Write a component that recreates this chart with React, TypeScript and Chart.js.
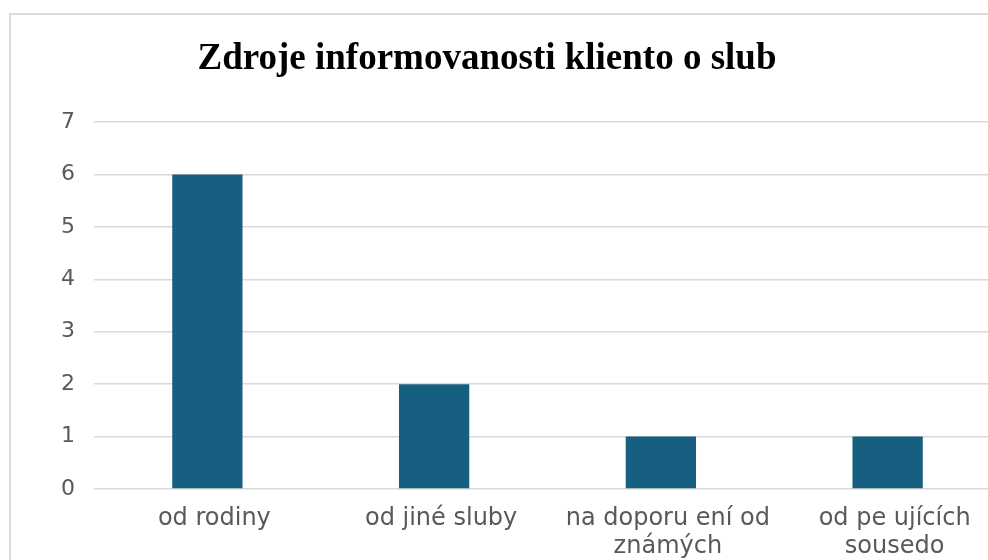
import React, { useEffect, useRef } from "react";
import { Chart, registerables } from "chart.js";

Chart.register(...registerables);

const titleText = "Zdroje informovanosti kliento o slub";
const categories: (string | string[])[] = [
  "od rodiny",
  "od jiné sluby",
  ["na doporu ení od", "známých"],
  ["od pe ujících", "sousedo"],
];
const values = [6, 2, 1, 1];
const yMin = 0;
const yMax = 7;
const yStep = 1;

const titlePlugin = {
  id: "customTitle",
  afterDraw(chart: any) {
    const ctx = chart.ctx;
    ctx.save();
    ctx.font = "bold 37px 'Liberation Serif', 'Times New Roman', serif";
    ctx.fillStyle = "#000000";
    ctx.textAlign = "center";
    ctx.textBaseline = "alphabetic";
    ctx.fillText(titleText, 477, 55);
    ctx.restore();
  },
};

export default function App() {
  const ref = useRef<HTMLCanvasElement>(null);
  useEffect(() => {
    document.body.style.overflow = "hidden";
    document.documentElement.style.overflow = "hidden";
    if (!ref.current) return;
    const chart = new Chart(ref.current, {
      type: "bar",
      data: {
        labels: categories,
        datasets: [
          {
            data: values,
            backgroundColor: "#175f80",
            borderWidth: 0,
            barPercentage: 0.31,
            categoryPercentage: 1,
          },
        ],
      },
      options: {
        animation: false,
        responsive: false,
        devicePixelRatio: 1,
        layout: { padding: { top: 108, left: 0, right: 0, bottom: 0 } },
        plugins: {
          legend: { display: false },
          title: { display: false },
          tooltip: { enabled: false },
        },
        scales: {
          x: {
            grid: { display: false, drawTicks: false },
            border: { display: false },
            ticks: {
              color: "#595959",
              font: { family: "'DejaVu Sans', sans-serif", size: 24, lineHeight: 1.17 },
              padding: 16,
              labelOffset: 7,
              maxRotation: 0,
              autoSkip: false,
            },
            afterFit: (scale: any) => {
              scale.height = 100;
            },
          },
          y: {
            min: yMin,
            max: yMax,
            grid: { color: "#d9d9d9", lineWidth: 1.5, drawTicks: false },
            border: { display: false },
            ticks: {
              stepSize: yStep,
              color: "#595959",
              font: { family: "'DejaVu Sans', sans-serif", size: 22 },
              padding: 19,
            },
            afterFit: (scale: any) => {
              scale.width = 84;
            },
          },
        },
      },
      plugins: [titlePlugin],
    });
    return () => chart.destroy();
  }, []);

  return (
    <div
      style={{
        position: "absolute",
        left: 9,
        top: 13,
        width: 1010,
        height: 600,
        borderLeft: "2px solid #dcdcdc",
        borderTop: "2px solid #dcdcdc",
        boxSizing: "border-box",
        background: "#ffffff",
      }}
    >
      <canvas
        ref={ref}
        width={991}
        height={575}
        style={{ display: "block", width: 991, height: 575, marginLeft: -1, marginTop: -1 }}
      />
    </div>
  );
}
